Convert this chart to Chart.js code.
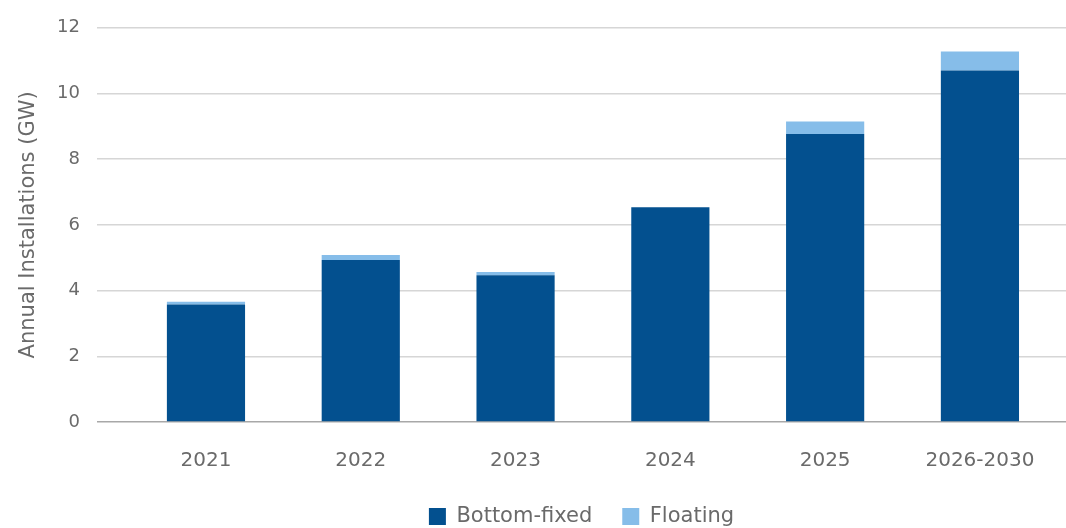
<!DOCTYPE html>
<html>
<head>
<meta charset="utf-8">
<script src="https://cdn.jsdelivr.net/npm/chart.js@4/dist/chart.umd.min.js"></script>
<style>
  html, body { margin: 0; padding: 0; background: #fff; }
  #wrap { width: 1066px; height: 528px; }
</style>
</head>
<body>
<div id="wrap"><canvas id="grafico"></canvas></div>
<script>
const categorias = ['2021', '2022', '2023', '2024', '2025', '2026-2030'];
const bottomFixed = [3.58, 4.93, 4.47, 6.54, 8.77, 10.7];
const floating = [0.08, 0.15, 0.10, 0, 0.38, 0.58];
const yTicks = [0, 2, 4, 6, 8, 10, 12];

const fonte = "'DejaVu Sans', sans-serif";
const cinza = '#6a6a6a';

// linear x axis so the grid can run past the first/last bar like the original
const pontos = arr => arr.map((v, i) => ({ x: i, y: v }));

const ctx = document.getElementById('grafico');

new Chart(ctx, {
    type: 'bar',
    data: {
        datasets: [
            {
                label: 'Bottom-fixed',
                data: pontos(bottomFixed),
                backgroundColor: '#03508f',
                categoryPercentage: 1,
                barPercentage: 0.505
            },
            {
                label: 'Floating',
                data: pontos(floating),
                backgroundColor: '#86bde9',
                categoryPercentage: 1,
                barPercentage: 0.505
            }
        ]
    },
    options: {
        responsive: true,
        maintainAspectRatio: false,
        animation: false,
        layout: { padding: { left: 6, right: 0, top: 25, bottom: -9 } },
        plugins: {
            tooltip: { enabled: false },
            legend: {
                position: 'bottom',
                fullSize: false,
                labels: {
                    boxWidth: 17,
                    boxHeight: 17,
                    padding: 30,
                    color: cinza,
                    font: { family: fonte, size: 21 }
                }
            }
        },
        scales: {
            x: {
                type: 'linear',
                stacked: true,
                offset: false,
                min: -0.704,
                max: 5.556,
                afterBuildTicks: axis => {
                    axis.ticks = categorias.map((c, i) => ({ value: i }));
                },
                afterFit: axis => { axis.height = 54; },
                grid: { display: false, drawTicks: false },
                border: { display: false },
                ticks: {
                    padding: 27,
                    maxRotation: 0,
                    autoSkip: false,
                    color: cinza,
                    font: { family: fonte, size: 20 },
                    callback: v => categorias[v] ?? ''
                }
            },
            y: {
                stacked: true,
                min: 0,
                max: 12,
                afterBuildTicks: axis => {
                    axis.ticks = yTicks.map(v => ({ value: v }));
                },
                afterFit: axis => { axis.width = 91; },
                border: { display: false },
                grid: {
                    color: c => c.tick.value === 0 ? '#a8a8a8' : '#d6d6d6',
                    lineWidth: 1.5,
                    drawTicks: false
                },
                ticks: {
                    padding: 17,
                    color: cinza,
                    font: { family: fonte, size: 18 }
                },
                title: {
                    display: true,
                    text: 'Annual Installations (GW)',
                    color: cinza,
                    font: { family: fonte, size: 21 },
                    padding: { top: 10, bottom: 14 }
                }
            }
        }
    }
});
</script>
</body>
</html>
